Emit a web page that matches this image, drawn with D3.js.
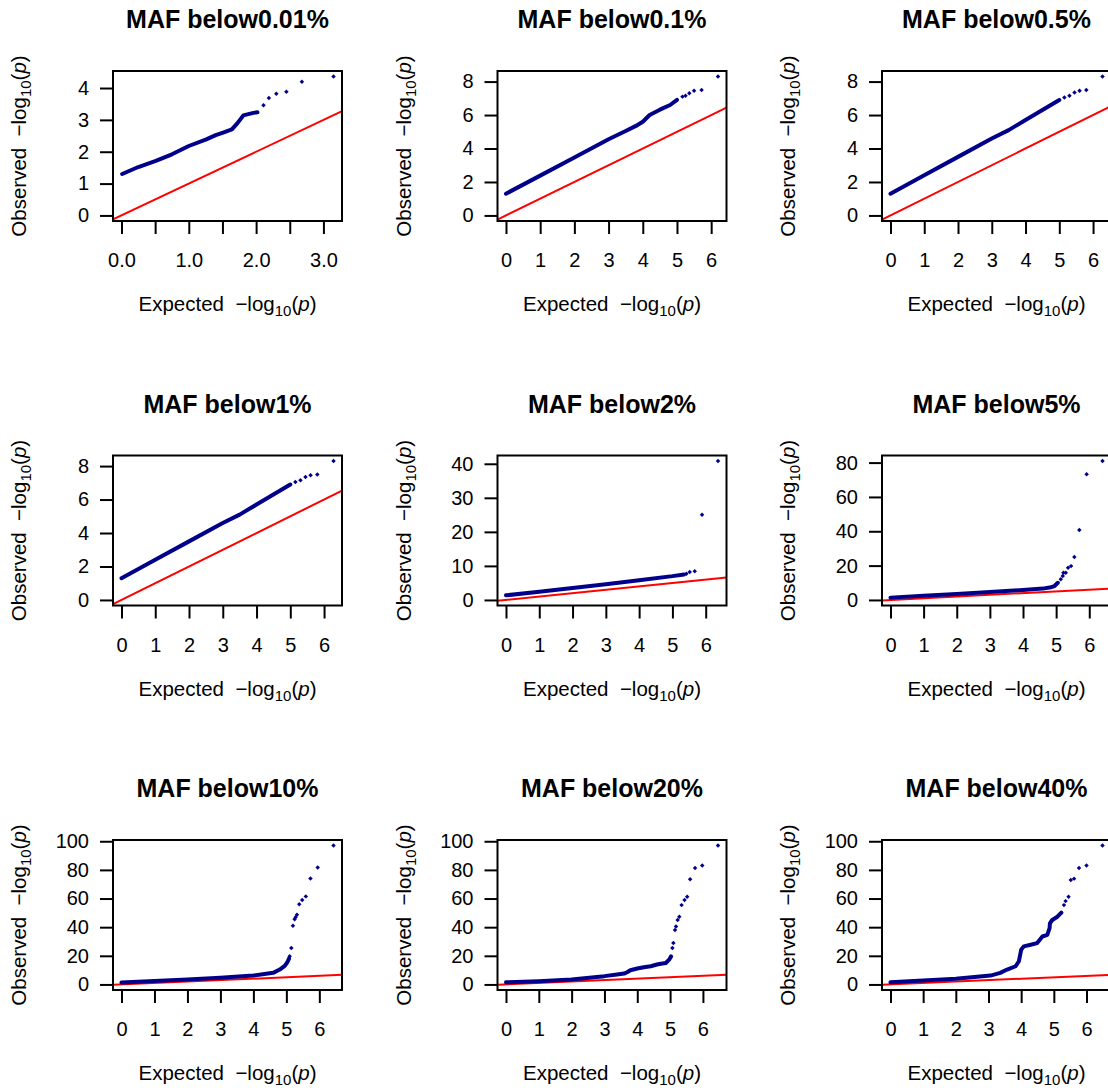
<!DOCTYPE html>
<html>
<head>
<meta charset="utf-8">
<script src="https://cdn.jsdelivr.net/npm/d3@7"></script>
<style>
  html, body { margin: 0; padding: 0; background: #fff; }
  text { font-family: "Liberation Sans", Arial, Helvetica, sans-serif; fill: #000; white-space: pre; }
  .title { font-weight: bold; font-size: 25px; }
  .tick-label { font-size: 20px; }
  .axis-label { font-size: 20.5px; }
</style>
</head>
<body>
<div id="chart"></div>
<script>
const WIDTH = 1108, HEIGHT = 1091;
const BOX_W = 229, BOX_H = 150, PITCH = 384.5;
const LEFT0 = 113, TOP0 = 71;

// panel titles, row by row
const titles = ["MAF below0.01%", "MAF below0.1%", "MAF below0.5%",
                "MAF below1%", "MAF below2%", "MAF below5%",
                "MAF below10%", "MAF below20%", "MAF below40%"];

// tick values per panel
const xTicks001 = [0, 0.5, 1, 1.5, 2, 2.5, 3];
const xTicksStd = [0, 1, 2, 3, 4, 5, 6];
const yTicks = [
  [0, 1, 2, 3, 4],
  [0, 2, 4, 6, 8],
  [0, 2, 4, 6, 8],
  [0, 2, 4, 6, 8],
  [0, 10, 20, 30, 40],
  [0, 20, 40, 60, 80],
  [0, 20, 40, 60, 80, 100],
  [0, 20, 40, 60, 80, 100],
  [0, 20, 40, 60, 80, 100]
];

// dense part of each QQ curve (expected, observed)
const band001 = [[0.01,1.3],[0.25,1.52],[0.51,1.71],[0.75,1.92],[1.0,2.18],[1.26,2.39],[1.4,2.52],[1.51,2.6],[1.64,2.7],[1.72,2.89],[1.81,3.14],[1.96,3.22],[2.02,3.24]];
const band01  = [[0,1.3],[1,2.38],[2,3.46],[3,4.55],[3.5,5.05],[3.8,5.35],[4.0,5.6],[4.2,6.0],[4.5,6.32],[4.8,6.6],[5.0,6.9]];
const band05  = [[0,1.3],[1,2.4],[2,3.5],[3,4.6],[3.5,5.1],[4.0,5.7],[4.5,6.3],[5.0,6.9]];
const band1   = [[0,1.3],[1,2.4],[2,3.5],[3,4.6],[3.5,5.1],[4.0,5.7],[4.5,6.3],[5.0,6.9]];
const band2   = [[0,1.35],[1,2.4],[2,3.5],[3,4.6],[4,5.8],[5,7.0],[5.35,7.5]];
const band5   = [[0,1.35],[1,2.4],[2,3.4],[3,4.6],[4,5.8],[4.6,6.6],[4.8,7.2],[4.95,8.1],[5.05,10]];
const band10  = [[0,1.4],[1,2.4],[2,3.5],[3,4.7],[4,6.2],[4.6,8.1],[4.8,10.4],[4.95,13],[5.03,15.5],[5.08,18]];
const band20  = [[0,1.5],[1,2.3],[2,3.5],[3,5.8],[3.38,6.9],[3.6,7.6],[3.69,8.5],[3.79,9.9],[4.0,11.1],[4.2,12],[4.41,12.7],[4.6,13.9],[4.72,14.5],[4.87,15],[4.97,17.3],[5.03,19.6]];
const band40  = [[0,1.5],[1,2.8],[2,3.9],[3.06,6.2],[3.36,8.1],[3.57,10.4],[3.83,12.7],[3.93,16.2],[3.96,19.6],[4.0,24.2],[4.08,26.6],[4.29,27.7],[4.49,28.9],[4.65,33.5],[4.8,34.6],[4.87,39.3],[4.88,42.7],[4.95,45],[5.11,47.3],[5.23,50.1]];

// sparse tail points
const tail001 = [[2.11,3.46],[2.19,3.69],[2.3,3.82],[2.45,3.88],[2.68,4.2],[3.15,4.36]];
const tail01  = [[5.16,7.1],[5.25,7.15],[5.36,7.3],[5.5,7.45],[5.72,7.5],[6.2,8.3]];
const tail05  = [[5.15,7.05],[5.3,7.15],[5.45,7.35],[5.6,7.45],[5.8,7.5],[6.28,8.3]];
const tail1   = [[5.15,7.05],[5.3,7.15],[5.45,7.35],[5.6,7.45],[5.8,7.5],[6.28,8.3]];
const tail2   = [[5.42,7.7],[5.52,8.2],[5.67,8.4],[5.89,25],[6.37,40.8]];
const tail5   = [[5.14,12],[5.2,14],[5.22,15.8],[5.29,15.8],[5.36,18.7],[5.45,19.7],[5.55,25],[5.7,40.8],[5.92,73.2],[6.4,80.9]];
const tail10  = [[5.1,19.7],[5.15,25.5],[5.2,41],[5.25,45.6],[5.28,47],[5.32,48.6],[5.39,56],[5.48,59],[5.59,61.5],[5.73,74],[5.95,81.7],[6.43,97]];
const tail20  = [[5.07,25.4],[5.1,28.9],[5.15,38.1],[5.18,40.4],[5.23,45],[5.28,47.3],[5.35,55.4],[5.44,58.9],[5.52,61.2],[5.61,73.4],[5.76,81.3],[5.98,83.1],[6.46,97]];
const tail40  = [[5.31,55.4],[5.36,58.2],[5.45,61.2],[5.52,73],[5.62,73.9],[5.77,81.3],[6.0,83.1],[6.49,97]];

const bands = [band001, band01, band05, band1, band2, band5, band10, band20, band40];
const tails = [tail001, tail01, tail05, tail1, tail2, tail5, tail10, tail20, tail40];

const NAVY = "#00008b";

const svg = d3.select("#chart").append("svg")
  .attr("width", WIDTH).attr("height", HEIGHT);

titles.forEach((title, i) => {
  const col = i % 3, row = Math.floor(i / 3);
  const left = LEFT0 + col * PITCH, top = TOP0 + row * PITCH;
  const pts = bands[i].concat(tails[i]);
  const xmax = d3.max(pts, d => d[0]);
  const ymax = d3.max(pts, d => d[1]);

  // R style 4% padding
  const x = d3.scaleLinear().domain([-0.04 * xmax, xmax * 1.04]).range([left, left + BOX_W]);
  const y = d3.scaleLinear().domain([-0.04 * ymax, ymax * 1.04]).range([top + BOX_H, top]);

  const g = svg.append("g");
  const clipId = "clip" + i;
  g.append("clipPath").attr("id", clipId)
    .append("rect").attr("x", left).attr("y", top).attr("width", BOX_W).attr("height", BOX_H);

  const plot = g.append("g").attr("clip-path", `url(#${clipId})`);

  // y = x reference line
  const xd = x.domain();
  plot.append("line")
    .attr("x1", x(xd[0])).attr("y1", y(xd[0]))
    .attr("x2", x(xd[1])).attr("y2", y(xd[1]))
    .attr("stroke", "red").attr("stroke-width", 2);

  // dense band
  plot.append("path")
    .datum(bands[i])
    .attr("d", d3.line().x(d => x(d[0])).y(d => y(d[1])))
    .attr("fill", "none").attr("stroke", NAVY)
    .attr("stroke-width", 4).attr("stroke-linejoin", "round").attr("stroke-linecap", "round");

  // tail points (pch 18 style diamonds)
  plot.selectAll(".pt").data(tails[i]).join("path")
    .attr("class", "pt")
    .attr("d", d3.symbol(d3.symbolSquare, 10))
    .attr("transform", d => `translate(${x(d[0])},${y(d[1])}) rotate(45)`)
    .attr("fill", NAVY);

  // box
  g.append("rect")
    .attr("x", left).attr("y", top).attr("width", BOX_W).attr("height", BOX_H)
    .attr("fill", "none").attr("stroke", "#000").attr("stroke-width", 2);

  // x axis
  const xt = i === 0 ? xTicks001 : xTicksStd;
  const xAxis = g.append("g").attr("transform", `translate(0,${top + BOX_H})`)
    .call(d3.axisBottom(x).tickValues(xt).tickSize(13).tickPadding(19)
      .tickFormat(d => i === 0 ? (d % 1 === 0 ? d3.format(".1f")(d) : "") : d));
  xAxis.select(".domain").remove();
  xAxis.selectAll(".tick line").attr("stroke", "#000").attr("stroke-width", 2);
  xAxis.selectAll(".tick text").attr("class", "tick-label").attr("font-size", null).attr("font-family", null);

  // y axis
  const yAxis = g.append("g").attr("transform", `translate(${left},0)`)
    .call(d3.axisLeft(y).tickValues(yTicks[i]).tickSize(13).tickPadding(11).tickFormat(d => d));
  yAxis.select(".domain").remove();
  yAxis.selectAll(".tick line").attr("stroke", "#000").attr("stroke-width", 2);
  yAxis.selectAll(".tick text").attr("class", "tick-label").attr("font-size", null).attr("font-family", null);

  // title
  g.append("text").attr("class", "title")
    .attr("x", left + BOX_W / 2).attr("y", top - 43)
    .attr("text-anchor", "middle").text(title);

  // x label: Expected -log10(p)
  const xl = g.append("text").attr("class", "axis-label")
    .attr("x", left + BOX_W / 2).attr("y", top + BOX_H + 90)
    .attr("text-anchor", "middle");
  xl.append("tspan").text("Expected  \u2212log");
  xl.append("tspan").attr("font-size", "15px").attr("dy", 5).text("10");
  xl.append("tspan").attr("dy", -5).text("(");
  xl.append("tspan").attr("font-style", "italic").text("p");
  xl.append("tspan").text(")");

  // y label: Observed -log10(p)
  const yl = g.append("text").attr("class", "axis-label")
    .attr("transform", `translate(${left - 87},${top + BOX_H / 2}) rotate(-90)`)
    .attr("text-anchor", "middle");
  yl.append("tspan").text("Observed  \u2212log");
  yl.append("tspan").attr("font-size", "15px").attr("dy", 5).text("10");
  yl.append("tspan").attr("dy", -5).text("(");
  yl.append("tspan").attr("font-style", "italic").text("p");
  yl.append("tspan").text(")");
});
</script>
</body>
</html>
